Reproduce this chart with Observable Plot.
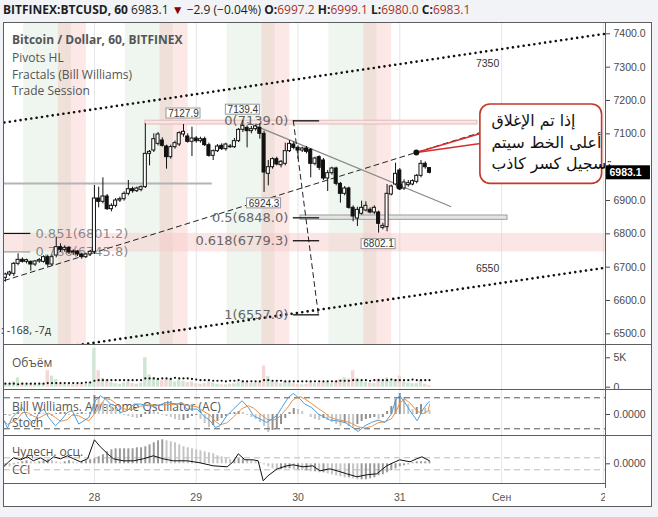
<!DOCTYPE html>
<html>
<head>
<meta charset="utf-8">
<script src="https://cdn.jsdelivr.net/npm/d3@7"></script>
<script src="https://cdn.jsdelivr.net/npm/@observablehq/plot@0.6"></script>
<style>
html,body{margin:0;padding:0;background:#f1f3f6;}
#root{position:relative;width:658px;height:517px;overflow:hidden;background:#f1f3f6;font-family:"Open Sans",sans-serif;}
.lbl{position:absolute;font-size:12px;line-height:16px;color:#555;white-space:nowrap;}
.sep{position:absolute;background:#5d5d5d;}
svg{position:absolute;}
</style>
</head>
<body>
<div id="root"></div>
<script>
// ================= DATA =================
// hours relative to Aug 28 00:00, one candle per hour
const firstHour = -21;
const opens = [6668,6678,6680,6710,6722,6716,6716,6708,6717,6716,6730,6708,6735,6760,6752,6758,6744,6747,6738,6730,6738,
6746,6906,6896,6912,6874,6884,6900,6904,6920,6934,6928,6932,
6940,7040,7050,7070,7080,7062,7030,7060,7068,7098,7092,7076,
7086,7078,7084,7066,7034,7048,7064,7054,7062,7060,7078,7112,7118,7108,7114,7118,
7100,6980,7000,7024,7006,7010,7048,7068,7058,7050,
7056,7052,7010,7030,7020,6966,6982,6996,6950,6920,
6936,6878,6846,6860,6870,6872,6864,6864,6818,6820,
6918,6948,6990,6936,6946,6948,6956,6974,7010,6997.2];
const highs = [6682,6688,6714,6740,6728,6724,6718,6720,6726,6734,6736,6736,6790,6770,6764,6762,6752,6750,6742,6742,6750,
6945,6940,6968,6918,6890,6906,6910,6926,6960,6940,6940,6944,
7130,7050,7100,7104,7088,7066,7066,7078,7106,7127.9,7100,7120,
7092,7090,7090,7072,7052,7068,7070,7072,7068,7086,7116,7139.4,7124,7122,7126,7130,
7108,7020,7028,7030,7020,7072,7080,7076,7064,7060,
7062,7056,7030,7034,7026,6990,7000,7000,6954,6942,
6940,6884,6880,6898,6896,6878,6884,6868,6832,6948,
6946,7012,6996,6962,6960,6962,6978,7020,7016,6999.1];
const lows = [6655,6672,6672,6704,6712,6710,6688,6702,6712,6712,6700,6702,6728,6744,6745,6738,6735,6732,6724,6726,6732,
6738,6878,6890,6870,6866,6878,6894,6898,6914,6922,6924,6926,
6936,7004,7044,7064,7060,6994,7024,7054,7062,7090,7072,7032,
7072,7072,7062,7030,7020,7044,7050,7048,7056,7056,7074,7104,7058,7100,7108,7084,
6924.3,6944,6994,7004,6998,7004,7044,7052,7024,7044,
7040,6968,7004,6990,6960,6927,6976,6944,6892,6914,
6874,6836,6822,6856,6866,6860,6858,6802.1,6812,6806,
6914,6944,6930,6930,6940,6944,6950,6968,6994,6980.0];
const closes = [6678,6684,6710,6722,6716,6721,6708,6717,6721,6730,6708,6730,6760,6752,6758,6744,6747,6738,6730,6738,6746,
6906,6896,6912,6874,6884,6900,6904,6920,6934,6928,6936,6940,
7040,7046,7084,7098,7064,7030,7060,7072,7102,7106,7076,7086,
7078,7084,7066,7034,7048,7062,7054,7068,7060,7078,7112,7124,7108,7114,7122,7100,
6984,7000,7024,7008,7016,7048,7070,7058,7050,7056,
7046,7010,7026,6998,6966,6982,6996,6950,6920,6936,
6878,6852,6872,6878,6884,6864,6878,6830,6824,6920,
6942,6980,6936,6954,6952,6958,6974,7010,7000,6983.1];
const volumes = [0.6,0.5,0.9,1.6,0.7,0.4,0.6,0.5,0.4,0.6,2.8,1.9,1.3,0.7,0.5,0.6,0.4,0.5,0.6,0.5,0.9,
6.6,2.8,1.5,1.2,0.8,0.6,0.5,0.7,0.9,0.6,0.5,0.7,
5.0,2.1,1.6,1.4,1.1,1.3,1.3,0.9,1.2,1.0,0.8,0.9,
0.6,0.5,0.6,0.9,0.7,0.5,0.4,0.4,0.5,0.6,0.9,1.1,0.8,0.6,0.7,0.9,
3.6,1.8,1.0,0.8,0.6,1.0,0.8,0.6,0.5,0.4,
0.5,0.9,0.6,0.7,0.9,0.8,0.6,1.0,1.3,1.6,
1.4,2.8,1.5,1.0,0.8,0.7,0.6,1.4,1.0,1.6,
1.0,1.3,1.9,0.9,0.7,0.6,0.6,1.2,0.5,0.3];
const volumeMA = [0.6,0.6,0.6,0.5,0.6,0.6,0.6,0.6,0.6,0.6,0.7,0.7,0.7,0.7,0.7,0.7,0.7,0.7,0.7,0.8,0.8,
1.1,1.2,1.2,1.2,1.2,1.2,1.2,1.2,1.2,1.2,1.2,1.2,
1.5,1.5,1.5,1.4,1.5,1.5,1.4,1.6,1.5,1.5,1.5,1.4,
1.3,1.2,1.2,1.2,1.1,1.1,1.1,1.0,1.1,1.1,1.2,1.0,1.0,1.0,1.0,1.0,
1.2,1.2,1.1,1.1,1.1,1.0,1.0,1.0,1.0,1.0,
1.0,1.0,1.0,1.0,1.0,1.0,1.0,1.0,1.1,1.1,
1.1,1.2,1.2,1.2,1.2,1.1,1.2,1.2,1.2,1.2,
1.3,1.2,1.2,1.2,1.2,1.3,1.2,1.2,1.2,1.2];
const acValues = [-1,-2,1,2,1,-1,-2,1,2,1,-1,-2,1,2,2,-1,-2,1,2,1,2,
19,16,12,10,8,5,3,-1,-2,-3,-4,-3,
2,4,3,2,-1,-2,-3,-5,-6,-6,-4,-2,
-1,-5,-9,-13,-11,-7,-4,-2,1,2,3,2,-1,-3,-5,-8,
-12,-18,-16,-14,-10,-4,2,6,5,3,
0,-3,-5,-6,-4,-6,-8,-10,-12,-9,
-12,-14,-10,-7,-5,-4,-3,-5,-3,3,
8,15,21,17,10,5,7,10,6,4];
const aoValues = [-2,-3,-1,1,2,3,2,1,2,3,4,3,2,1,2,3,2,1,2,3,4,
5,7,9,12,14,15,15,15,15,15,16,16,17,19,21,23,24,23,22,21,19,17,16,15,14,13,12,11,10,8,7,5,4,4,5,5,4,3,2,1,
-1,-3,-5,-6,-6,-5,-5,-6,-6,-7,-7,-8,-8,-9,-9,-10,-11,-12,-13,-14,-14,-15,-16,-16,-16,-15,-14,-12,-11,-9,-7,-5,-3,-2,-1,1,2,2,2,2];
const stochHours = [-21.3,-20.5,-19.4,-18.2,-17,-15.8,-14.3,-13.1,-11.9,-10.8,-9.2,-8,-6.4,-5.2,-3.7,-2.5,-1.3,0.2,1.4,2.6,3.8,4.9,6.1,7.7,9.3,10.8,12.8,14.7,17.1,19.5,20.6,21.8,24.2,25.7,27.3,28.5,29.6,31.2,32.8,34.8,36.3,37.5,39.1,40.6,41.8,43,44.2,45.7,46.9,48.5,49.6,51.2,52.8,54.4,55.5,57.1,59.1,60.6,62.2,63.8,65.3,66.9,68.5,70,71.1,72,73.2,74.4,76.1,77.5,78.7,79];
const stochK = [35.5,21.4,41.9,51.5,61.2,41.9,29.1,51.5,58.1,41.9,25.8,35.5,51.5,54.8,29.1,35.5,41.9,74.2,83.9,77.5,67.8,64.5,51.5,54.8,67.8,67.8,64.5,64.5,70.9,67.8,70.9,58.1,58.1,45.2,35.5,22.5,25.8,45.2,58.1,74.2,61.2,45.2,38.8,32.2,38.8,45.2,61.2,80.6,88.3,77.5,67.8,61.2,48.4,41.9,37,35.5,32.2,23.9,14.8,25.8,32.2,36.8,32.2,48.4,77.5,83.9,70.9,54.8,35.5,58.1,70.9,72];
const cciHours = [-21.4,-20.2,-19.1,-17.4,-15.8,-14.4,-12.7,-11.1,-9.6,-8,-6.4,-4.9,-3.3,-1.6,0,1.4,3.1,4.5,6.8,9.2,11.5,13.9,16.2,18.6,21.9,24.9,28,31.3,32.7,33.9,35.5,37.4,38.6,39.8,40.9,43.1,45.4,46.8,49.2,51.5,53.2,55.5,57.2,59.5,61.9,64.2,66.6,68.9,70.4,72,74.4,76,77.2,79];
const cciValues = [-3,2,6,4,7,3,6,2,7,5,8,5,2,5,24,17,10,5,3,3,5,8,5,3,3,1,-2,-3,2,10,4,4,3,-17,-12,-5,-2,-1,-3,-2,-7,-5,-7,-10,-13,-11,-10,-2,1,4,2,5,7,3];

const dayTicks = [0, 24, 48, 72, 96, 120];
const dayLabels = ["28", "29", "30", "31", "Сен", "2"];
const priceTicks = [6500, 6600, 6700, 6800, 6900, 7000, 7100, 7200, 7300, 7400];
const volumeTicks = [0, 5];
const volumeTickLabels = ["0", "5K"];
const oscTicks = [0];

const londonOpen = [-16.7, 7.3, 31.3, 55.3], londonClose = [-5.4, 18.6, 42.6, 66.6];
const nyOpen = [-8.5, 15.5, 39.5, 63.5], nyClose = [-1.9, 22.1, 46.1, 70.1];

const fibLevels = ["0", "0.5", "0.618", "1"];
const fibPrices = [7139.0, 6848.0, 6779.3, 6557.0];
const leftFibLevels = ["0.851", "0.786"];
const leftFibPrices = [6801.2, 6745.8];
const pivotHighs = [7127.9, 7139.4];
const pivotLevel = 6951;
const fractalHours = [21, 35, 40, 67];
const fractalPrices = [7127.9, 7139.4, 6924.3, 6802.1];
const fractalIsHigh = [true, true, false, false];

const upperChannelH = [-21.2, 120.3], upperChannelP = [7134, 7400];
const lowerChannelH = [-4, 120.3],   lowerChannelP = [6466, 6698];
const midLineH = [-21.2, 91],        midLineP = [6660, 7104];
const downTrendH = [36.1, 84],       downTrendP = [7134, 6882];
const fibDiagH = [46.9, 52.8],       fibDiagP = [7139, 6557];
const channelLabels = ["7350", "6550"], channelLabelP = [7311, 6695];
const signalDotH = [71.9, 75.9], signalDotP = [6942, 7044];
const calloutLines = ["إذا تم الإغلاق", "أعلى الخط سيتم", "تسجيل كسر كاذب"];

const headerSymbol = "BITFINEX:BTCUSD, 60";
const headerChange = "−2.9 (−0.04%)";
const legendLines = ["Bitcoin / Dollar, 60, BITFINEX", "Pivots HL", "Fractals (Bill Williams)", "Trade Session"];

// ================= BUILD =================
const candles = closes.map((c, i) => ({h: firstHour + i, o: opens[i], hi: highs[i], lo: lows[i], c}));
const vols = volumes.map((v, i) => ({h: firstHour + i, v, ma: volumeMA[i], up: closes[i] >= opens[i]}));
const acData = acValues.map((v, i) => ({h: firstHour + i, v, rising: i === 0 || v >= acValues[i - 1]}));
const aoData = aoValues.map((v, i) => ({h: firstHour + i, v, rising: i === 0 || v >= aoValues[i - 1]}));
const stochData = stochHours.map((h, i) => ({h, k: stochK[i]}));
const cciData = cciHours.map((h, i) => ({h, v: cciValues[i]}));
const fractals = fractalHours.map((h, i) => ({h, p: fractalPrices[i], hi: fractalIsHigh[i]}));
const pts = (H, P) => H.map((h, i) => ({h, p: P[i]}));
const last = candles[candles.length - 1];

const root = document.getElementById("root");
const X_DOMAIN = [-21.2, 120.5];
const SVG_W = 647, MR = 46;
const AXIS_FONT = "'Liberation Sans', Arial, sans-serif";

function add(el, left, top) { el.style.left = left + "px"; el.style.top = top + "px"; root.appendChild(el); return el; }
function div(cls, html, left, top, style = "") { const d = document.createElement("div"); d.className = cls; d.innerHTML = html; d.style.cssText += style; return add(d, left, top); }
function sep(left, top, w, h) { const d = document.createElement("div"); d.className = "sep"; d.style.width = w + "px"; d.style.height = h + "px"; return add(d, left, top); }

function panel(height, y, marks, width = SVG_W, mr = MR) {
  return Plot.plot({
    width, height, marginLeft: 0, marginRight: mr, marginTop: 0, marginBottom: 0,
    style: {background: "transparent", fontFamily: AXIS_FONT, fontSize: "10.5px", color: "#4a4a4a", overflow: "hidden"},
    x: {domain: X_DOMAIN, axis: null},
    y, marks
  });
}

// frame
const frame = document.createElement("div");
frame.style.cssText = "position:absolute;width:649px;height:485px;box-sizing:border-box;border:1px solid #5d5d5d;background:#fff;";
add(frame, 3, 22);

// lower-panel labels (under the lines)
div("lbl", "Объём", 12, 354.5);
div("lbl", "Bill Williams. Awesome Oscillator (AC)", 12, 398.7);
div("lbl", "Stoch", 12, 415);
div("lbl", "Чудесн. осц.", 12, 444);
div("lbl", "CCI", 12, 462);

// ---------- main price panel ----------
// the last-price badge covers the tick label right under it, as in the original
const visiblePriceTicks = priceTicks.filter(t => Math.abs(t - last.c) > 25);
const main = panel(321, {
  domain: [6468, 7431], axis: "right", ticks: visiblePriceTicks, tickFormat: d => d.toFixed(1),
  tickSize: 4, tickPadding: 4, label: null
}, [
  Plot.rect(londonOpen.map((s, i) => ({x1: s, x2: londonClose[i]})), {x1: "x1", x2: "x2", fill: "#4c964c", fillOpacity: 0.09}),
  Plot.rect(nyOpen.map((s, i) => ({x1: s, x2: nyClose[i]})), {x1: "x1", x2: "x2", fill: "#f05050", fillOpacity: 0.13}),
  Plot.ruleX(dayTicks, {stroke: "#e6e6e6"}),
  Plot.rect([0], {x1: X_DOMAIN[0], x2: X_DOMAIN[1], y1: leftFibPrices[1], y2: leftFibPrices[0], fill: "#f5c4c4", fillOpacity: 0.42}),
  Plot.ruleY([pivotLevel], {x1: X_DOMAIN[0], x2: 27.8, stroke: "#b4b4b4", strokeWidth: 2}),
  Plot.rect([0], {x1: 12, x2: 90.3, y1: pivotHighs[0], y2: pivotHighs[1], fill: "#fbe6e6", stroke: "#e3b9b9"}),
  Plot.rect([0], {x1: 48.6, x2: 97.4, y1: fibPrices[1] - 6, y2: fibPrices[1] + 7, fill: "#e4e4e4", stroke: "#9c9c9c"}),
  // channel & trend lines
  Plot.line(pts(upperChannelH, upperChannelP), {x: "h", y: "p", stroke: "#111", strokeWidth: 2.6, strokeDasharray: "0.01 5.4", strokeLinecap: "round"}),
  Plot.line(pts(lowerChannelH, lowerChannelP), {x: "h", y: "p", stroke: "#111", strokeWidth: 2.6, strokeDasharray: "0.01 5.4", strokeLinecap: "round"}),
  Plot.line(pts(midLineH, midLineP), {x: "h", y: "p", stroke: "#222", strokeWidth: 1, strokeDasharray: "5 4"}),
  Plot.line(pts(downTrendH, downTrendP), {x: "h", y: "p", stroke: "#8a8a8a", strokeWidth: 1.3}),
  Plot.line(pts(fibDiagH, fibDiagP), {x: "h", y: "p", stroke: "#222", strokeWidth: 1, strokeDasharray: "5 4"}),
  // fib levels
  Plot.ruleY(fibPrices, {x1: 46.9, x2: 53.1, stroke: "#111", strokeWidth: 1.3}),
  Plot.text(fibPrices, {x: 45.7, y: d => d, text: (d, i) => `${fibLevels[i]}(${d.toFixed(1)})`, textAnchor: "end", fill: "#666", fontSize: 13, fontFamily: "'DejaVu Sans', sans-serif"}),
  Plot.ruleY(leftFibPrices, {x1: X_DOMAIN[0], x2: -15, stroke: (d, i) => i === 0 ? "#111" : "#999", strokeWidth: 1.2}),
  Plot.text(leftFibPrices, {x: -13.9, y: d => d, text: (d, i) => `${leftFibLevels[i]}(${d.toFixed(1)})`, textAnchor: "start", fill: "#777", fillOpacity: 0.85, fontSize: 13, fontFamily: "'DejaVu Sans', sans-serif"}),
  // candles
  Plot.ruleX(candles, {x: "h", y1: "lo", y2: "hi", stroke: "#111", strokeWidth: 1}),
  Plot.rect(candles, {x1: d => d.h - 0.36, x2: d => d.h + 0.36, y1: "o", y2: "c", fill: d => d.c >= d.o ? "#fff" : "#111", stroke: "#111", strokeWidth: 1}),
  // fractal labels
  Plot.rect(fractals.filter(d => d.hi), {x1: "h", x2: "h", y1: "p", y2: "p", insetLeft: -17, insetRight: -17, insetTop: -16, insetBottom: 6, fill: "#fff", stroke: "#999"}),
  Plot.rect(fractals.filter(d => !d.hi), {x1: "h", x2: "h", y1: "p", y2: "p", insetLeft: -17, insetRight: -17, insetTop: 6, insetBottom: -16, fill: "#fff", stroke: "#999"}),
  Plot.text(fractals.filter(d => d.hi), {x: "h", y: "p", text: d => d.p.toFixed(1), dy: -11, fontSize: 10, fill: "#333", fontFamily: AXIS_FONT}),
  Plot.text(fractals.filter(d => !d.hi), {x: "h", y: "p", text: d => d.p.toFixed(1), dy: 11, fontSize: 10, fill: "#333", fontFamily: AXIS_FONT}),
  // channel labels
  Plot.text(channelLabelP, {x: 92.7, y: d => d, text: (d, i) => channelLabels[i], fill: "#333", fontSize: 10.5, fontFamily: AXIS_FONT}),
  // signal dots & callout
  Plot.link([0, 1], {x1: signalDotH[1], y1: signalDotP[1], x2: 91.0, y2: (d) => d === 0 ? 7101 : 7071, stroke: "#d32f2f", strokeWidth: 1.5}),
  Plot.dot(signalDotH.map((h, i) => ({h, p: signalDotP[i]})), {x: "h", y: "p", r: (d, i) => i === 0 ? 5.2 : 4.6, fill: "#111"}),
  Plot.rect([0], {x1: 91.0, x2: 119.7, y1: 6950, y2: 7188, rx: 10, fill: "#fff", stroke: "#c0392b", strokeWidth: 1.6}),
  Plot.text([calloutLines.join("\n")], {x: 93.6, y: 7078.6, text: d => d, textAnchor: "start", lineHeight: 1.36, fontSize: 15.8, fill: "#111", fontFamily: "'DejaVu Sans', sans-serif"}),
  // last price label
  Plot.rect([last.c], {x1: 120.74, x2: 131.1, y1: d => d, y2: d => d, insetTop: -7, insetBottom: -7, fill: "#000"}),
  Plot.text([last.c], {x: 121.44, y: d => d, text: d => d.toFixed(1), textAnchor: "start", fill: "#fff", fontWeight: "bold", fontSize: 10.5, fontFamily: AXIS_FONT})
]);
// make the Arabic callout flow right-to-left, keeping its left edge where the box starts
main.querySelectorAll("text").forEach(t => {
  if (/[\u0600-\u06FF]/.test(t.textContent)) {
    t.setAttribute("direction", "rtl");
    t.setAttribute("text-anchor", "end");
    t.style.direction = "rtl";
  }
});
add(main, 4, 23);

// ---------- volume ----------
const volPlot = panel(44, {
  domain: [-0.39, 7.09], axis: "right", ticks: volumeTicks, tickFormat: (d) => volumeTickLabels[volumeTicks.indexOf(d)],
  tickSize: 4, tickPadding: 4, label: null
}, [
  Plot.ruleX(dayTicks, {stroke: "#e6e6e6"}),
  Plot.rect(vols, {x1: d => d.h - 0.4, x2: d => d.h + 0.4, y1: 0, y2: "v", fill: d => d.up ? "#cfe6d5" : "#f6d5d5"}),
  Plot.dot(vols, {x: "h", y: "ma", r: 1.1, fill: "#111"})
]);
add(volPlot, 4, 345);

// ---------- AC histogram + Stoch ----------
const acPlot = panel(45, {
  domain: [-21, 24], axis: "right", ticks: oscTicks, tickFormat: d => d.toFixed(4), tickSize: 4, tickPadding: 4, label: null
}, [
  Plot.ruleX(dayTicks, {stroke: "#e6e6e6"}),
  Plot.ruleX(acData, {x: "h", y1: 0, y2: "v", stroke: d => d.rising ? "#8f8f8f" : "#c6c6c6", strokeWidth: 2})
]);
add(acPlot, 4, 390);
const stPlot = panel(45, {domain: [7.0, 94.1], axis: null}, [
  Plot.ruleY([80, 20], {stroke: "#555", strokeDasharray: "6 4"}),
  Plot.line(stochData, Plot.windowY({k: 3, anchor: "end"}, {x: "h", y: "k", stroke: "#e8924a", strokeWidth: 1})),
  Plot.line(stochData, {x: "h", y: "k", stroke: "#4b9ede", strokeWidth: 1})
]);
add(stPlot, 4, 390);

// ---------- AO + CCI ----------
const aoPlot = panel(47, {
  domain: [-19.7, 27.3], axis: "right", ticks: oscTicks, tickFormat: d => d.toFixed(4), tickSize: 4, tickPadding: 4, label: null
}, [
  Plot.ruleX(dayTicks, {stroke: "#e6e6e6"}),
  Plot.ruleY([6, -6], {stroke: "#bdbdbd", strokeDasharray: "6 4"}),
  Plot.ruleX(aoData, {x: "h", y1: 0, y2: "v", stroke: d => d.rising ? "#9a9a9a" : "#c4c4c4", strokeWidth: 2}),
  Plot.line(cciData, {x: "h", y: "v", stroke: "#111", strokeWidth: 1})
]);
add(aoPlot, 4, 436);

// ---------- time axis ----------
const axisPlot = Plot.plot({
  width: 601, height: 22, marginLeft: 0, marginRight: 0, marginTop: 0, marginBottom: 0,
  style: {background: "transparent", fontFamily: AXIS_FONT, fontSize: "10.5px", color: "#555", overflow: "hidden"},
  x: {domain: X_DOMAIN, axis: null},
  marks: [Plot.text(dayTicks, {x: d => d, text: (d, i) => dayLabels[i], frameAnchor: "middle", dy: 2, fill: "#555"})]
});
add(axisPlot, 4, 484);

// separators
sep(3, 344, 649, 1);
sep(3, 389, 649, 1);
sep(3, 435, 649, 1);
sep(3, 483, 602, 1);
sep(605, 22, 1, 466);

// main legend
legendLines.forEach((t, i) => div("lbl", t, 12, [32, 50, 66.5, 83][i], i === 0 ? "font-weight:700;" : ""));
div("lbl", ": -168, -7д", 1, 322, "font-size:11px;color:#333;");

// header
div("lbl",
  `<b>${headerSymbol}</b> ${last.c.toFixed(1)} <span style="color:#8b0000">▼</span> ${headerChange} ` +
  `<b>O:</b><span style="color:#a93226">${last.o.toFixed(1)}</span> <b>H:</b><span style="color:#a93226">${last.hi.toFixed(1)}</span> ` +
  `<b>L:</b><span style="color:#a93226">${last.lo.toFixed(1)}</span> <b>C:</b><span style="color:#a93226">${last.c.toFixed(1)}</span>`,
  3, 2, "color:#1e1e1e;");
</script>
</body>
</html>
